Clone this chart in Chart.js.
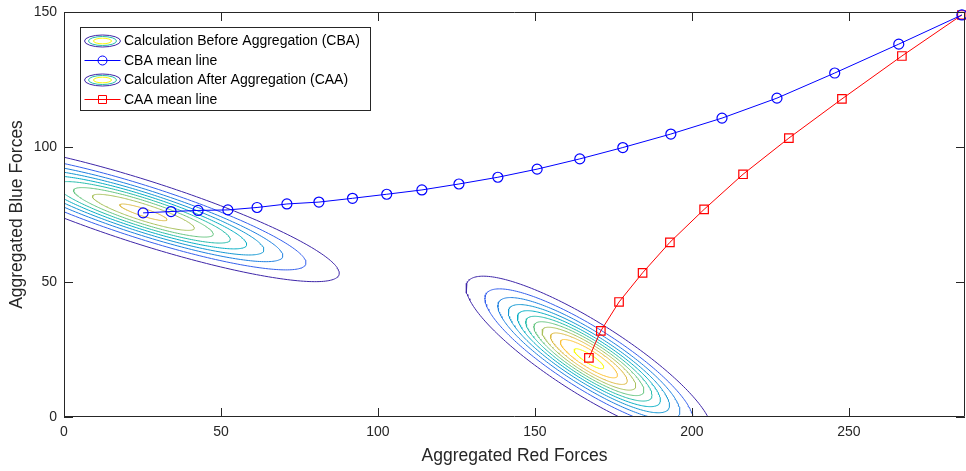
<!DOCTYPE html>
<html>
<head>
<meta charset="utf-8">
<script src="https://cdn.jsdelivr.net/npm/chart.js@4.4.1/dist/chart.umd.min.js"></script>
<style>
  html, body { margin: 0; padding: 0; background: #fff; }
</style>
</head>
<body>
<canvas id="myChart" width="966" height="471"></canvas>
<script>
// mean lines
const cbaX = [25.2, 34.1, 42.7, 52.2, 61.5, 71.0, 81.2, 91.9, 102.8, 114.0, 125.8, 138.2, 150.7, 164.3, 178.0, 193.3, 209.6, 227.1, 245.5, 265.9, 286.0];
const cbaY = [75.6, 76.1, 76.5, 76.7, 77.6, 78.9, 79.6, 81.0, 82.5, 84.1, 86.3, 88.8, 91.8, 95.6, 99.8, 104.8, 110.7, 118.1, 127.4, 138.1, 148.9];
const caaX = [167.2, 171.0, 176.8, 184.3, 193.0, 203.9, 216.3, 230.9, 247.8, 266.9, 286.0];
const caaY = [21.9, 31.9, 42.6, 53.4, 64.7, 76.9, 89.9, 103.3, 117.8, 133.7, 148.9];

const xTicks = [0, 50, 100, 150, 200, 250];
const yTicks = [0, 50, 100, 150];

// contour ellipses: centre, outer semi-axes, tilt (deg), levels as fraction of peak
const cbaCenter = [25.3, 75.8];
const cbaAxes = [66.45, 11.58];
const cbaAngle = -20.5;
const cbaLevels = [0.1075, 0.215, 0.323, 0.430, 0.538, 0.645, 0.753, 0.860, 0.968];

const caaCenter = [167.2, 21.6];
const caaAxes = [48.0, 12.7];
const caaAngle = -36.9;
const caaLevels = [0.0877, 0.175, 0.263, 0.351, 0.439, 0.526, 0.614, 0.702, 0.789, 0.877, 0.965];

// parula-like colours, same level -> same colour for both groups
const levelColors = ['#3e26a8', '#3560ec', '#1f80e0', '#1598d2', '#08aec4', '#26bcab', '#66c480', '#a8c05c', '#dcba45', '#fcc23a', '#f9fb0e'];

const FONT = "'Liberation Sans', Arial, Helvetica, sans-serif";
const AXIS = '#262626';

function ellipse(center, axes, angle, level, outer) {
  const s = Math.sqrt(-2 * Math.log(level)) / Math.sqrt(-2 * Math.log(outer));
  const th = angle * Math.PI / 180;
  const pts = [];
  for (let i = 0; i <= 240; i++) {
    const t = i / 240 * 2 * Math.PI;
    const u = s * axes[0] * Math.cos(t);
    const v = s * axes[1] * Math.sin(t);
    pts.push({ x: center[0] + u * Math.cos(th) - v * Math.sin(th), y: center[1] + u * Math.sin(th) + v * Math.cos(th) });
  }
  return pts;
}

const datasets = [
  {
    label: 'CBA mean line',
    data: cbaX.map((x, i) => ({ x: x, y: cbaY[i] })),
    showLine: true,
    borderColor: '#0000ff',
    borderWidth: 1,
    pointStyle: 'circle',
    pointRadius: 5,
    pointBorderWidth: 1.2,
    pointBackgroundColor: 'rgba(0,0,0,0)',
    pointBorderColor: '#0000ff',
    clip: 6
  },
  {
    label: 'CAA mean line',
    data: caaX.map((x, i) => ({ x: x, y: caaY[i] })),
    showLine: true,
    borderColor: '#ff0000',
    borderWidth: 1,
    pointStyle: 'rect',
    pointRadius: 6,
    pointBorderWidth: 1.2,
    pointBackgroundColor: 'rgba(0,0,0,0)',
    pointBorderColor: '#ff0000',
    clip: 6
  }
];

cbaLevels.forEach((lv, i) => {
  datasets.push({
    label: 'CBA contour ' + (i + 1),
    data: ellipse(cbaCenter, cbaAxes, cbaAngle, lv, cbaLevels[0]),
    showLine: true, borderColor: levelColors[i], borderWidth: 1, pointRadius: 0, clip: 0
  });
});
caaLevels.forEach((lv, i) => {
  datasets.push({
    label: 'CAA contour ' + (i + 1),
    data: ellipse(caaCenter, caaAxes, caaAngle, lv, caaLevels[0]),
    showLine: true, borderColor: levelColors[i], borderWidth: 1, pointRadius: 0, clip: 0
  });
});

// box around the axes with inward ticks, like the original figure
const boxPlugin = {
  id: 'boxPlugin',
  afterDatasetsDraw(chart) {
    const { ctx, chartArea: a, scales } = chart;
    ctx.save();
    ctx.strokeStyle = AXIS;
    ctx.lineWidth = 1;
    ctx.beginPath();
    ctx.rect(a.left + 0.5, a.top + 0.5, a.right - a.left - 1, a.bottom - a.top - 1);
    xTicks.forEach(v => {
      const px = Math.round(scales.x.getPixelForValue(v)) + 0.5;
      ctx.moveTo(px, a.bottom); ctx.lineTo(px, a.bottom - 9);
      ctx.moveTo(px, a.top); ctx.lineTo(px, a.top + 9);
    });
    yTicks.forEach(v => {
      const py = Math.round(scales.y.getPixelForValue(v)) + 0.5;
      ctx.moveTo(a.left, py); ctx.lineTo(a.left + 9, py);
      ctx.moveTo(a.right, py); ctx.lineTo(a.right - 9, py);
    });
    ctx.stroke();
    ctx.restore();
  }
};

// legend box in the top-left corner of the axes
const legendPlugin = {
  id: 'legendPlugin',
  afterDraw(chart) {
    const { ctx, chartArea: a } = chart;
    const bx = a.left + 16.5, by = a.top + 15.5, bw = 290, bh = 83;
    const items = [
      { text: 'Calculation Before Aggregation (CBA)', kind: 'contour' },
      { text: 'CBA mean line', kind: 'circle', color: '#0000ff' },
      { text: 'Calculation After Aggregation (CAA)', kind: 'contour' },
      { text: 'CAA mean line', kind: 'rect', color: '#ff0000' }
    ];
    ctx.save();
    ctx.fillStyle = '#fff';
    ctx.fillRect(bx, by, bw, bh);
    ctx.strokeStyle = AXIS;
    ctx.lineWidth = 1;
    ctx.strokeRect(bx, by, bw, bh);
    ctx.font = '14px ' + FONT;
    ctx.textBaseline = 'middle';
    items.forEach((it, i) => {
      const y = by + 13.5 + i * 19.5;
      const cx = a.left + 38.5;
      if (it.kind === 'contour') {
        [[18, 6, '#3e26a8'], [14, 4.5, '#26bcab'], [9, 2.8, '#f9fb0e']].forEach(e => {
          ctx.beginPath();
          ctx.ellipse(cx, y, e[0], e[1], 0, 0, 2 * Math.PI);
          ctx.strokeStyle = e[2];
          ctx.stroke();
        });
      } else {
        ctx.strokeStyle = it.color;
        ctx.beginPath();
        ctx.moveTo(cx - 18, y); ctx.lineTo(cx + 18, y);
        ctx.stroke();
        ctx.beginPath();
        if (it.kind === 'circle') ctx.arc(cx, y, 4.5, 0, 2 * Math.PI);
        else ctx.rect(cx - 4, y - 4, 8, 8);
        ctx.stroke();
      }
      ctx.fillStyle = '#000';
      ctx.fillText(it.text, a.left + 60, y + 0.5);
    });
    ctx.restore();
  }
};

const myChart = new Chart(document.getElementById('myChart').getContext('2d'), {
  type: 'scatter',
  data: { datasets: datasets },
  options: {
    responsive: false,
    devicePixelRatio: 1,
    animation: false,
    layout: { autoPadding: false, padding: { top: 12, right: 1, left: 0, bottom: 0 } },
    plugins: { legend: { display: false }, tooltip: { enabled: false } },
    elements: { line: { tension: 0 } },
    scales: {
      x: {
        type: 'linear', min: 0, max: 287,
        afterBuildTicks: s => { s.ticks = xTicks.map(v => ({ value: v })); },
        afterFit: s => { s.height = 54; s.paddingLeft = 0; s.paddingRight = 0; },
        grid: { display: false, drawTicks: false },
        border: { display: false },
        ticks: { font: { family: FONT, size: 14 }, color: AXIS, padding: 7, maxRotation: 0 },
        title: { display: true, text: 'Aggregated Red Forces', color: AXIS, font: { family: FONT, size: 17.5 }, padding: { top: 0, bottom: 4.5 } }
      },
      y: {
        type: 'linear', min: 0, max: 150,
        afterBuildTicks: s => { s.ticks = yTicks.map(v => ({ value: v })); },
        afterFit: s => { s.width = 64; s.paddingTop = 0; s.paddingBottom = 0; },
        grid: { display: false, drawTicks: false },
        border: { display: false },
        ticks: { font: { family: FONT, size: 14 }, color: AXIS, padding: 7 },
        title: { display: true, text: 'Aggregated Blue Forces', color: AXIS, font: { family: FONT, size: 17.5 }, padding: { top: 6.5, bottom: 0 } }
      }
    }
  },
  plugins: [boxPlugin, legendPlugin]
});
</script>
</body>
</html>
